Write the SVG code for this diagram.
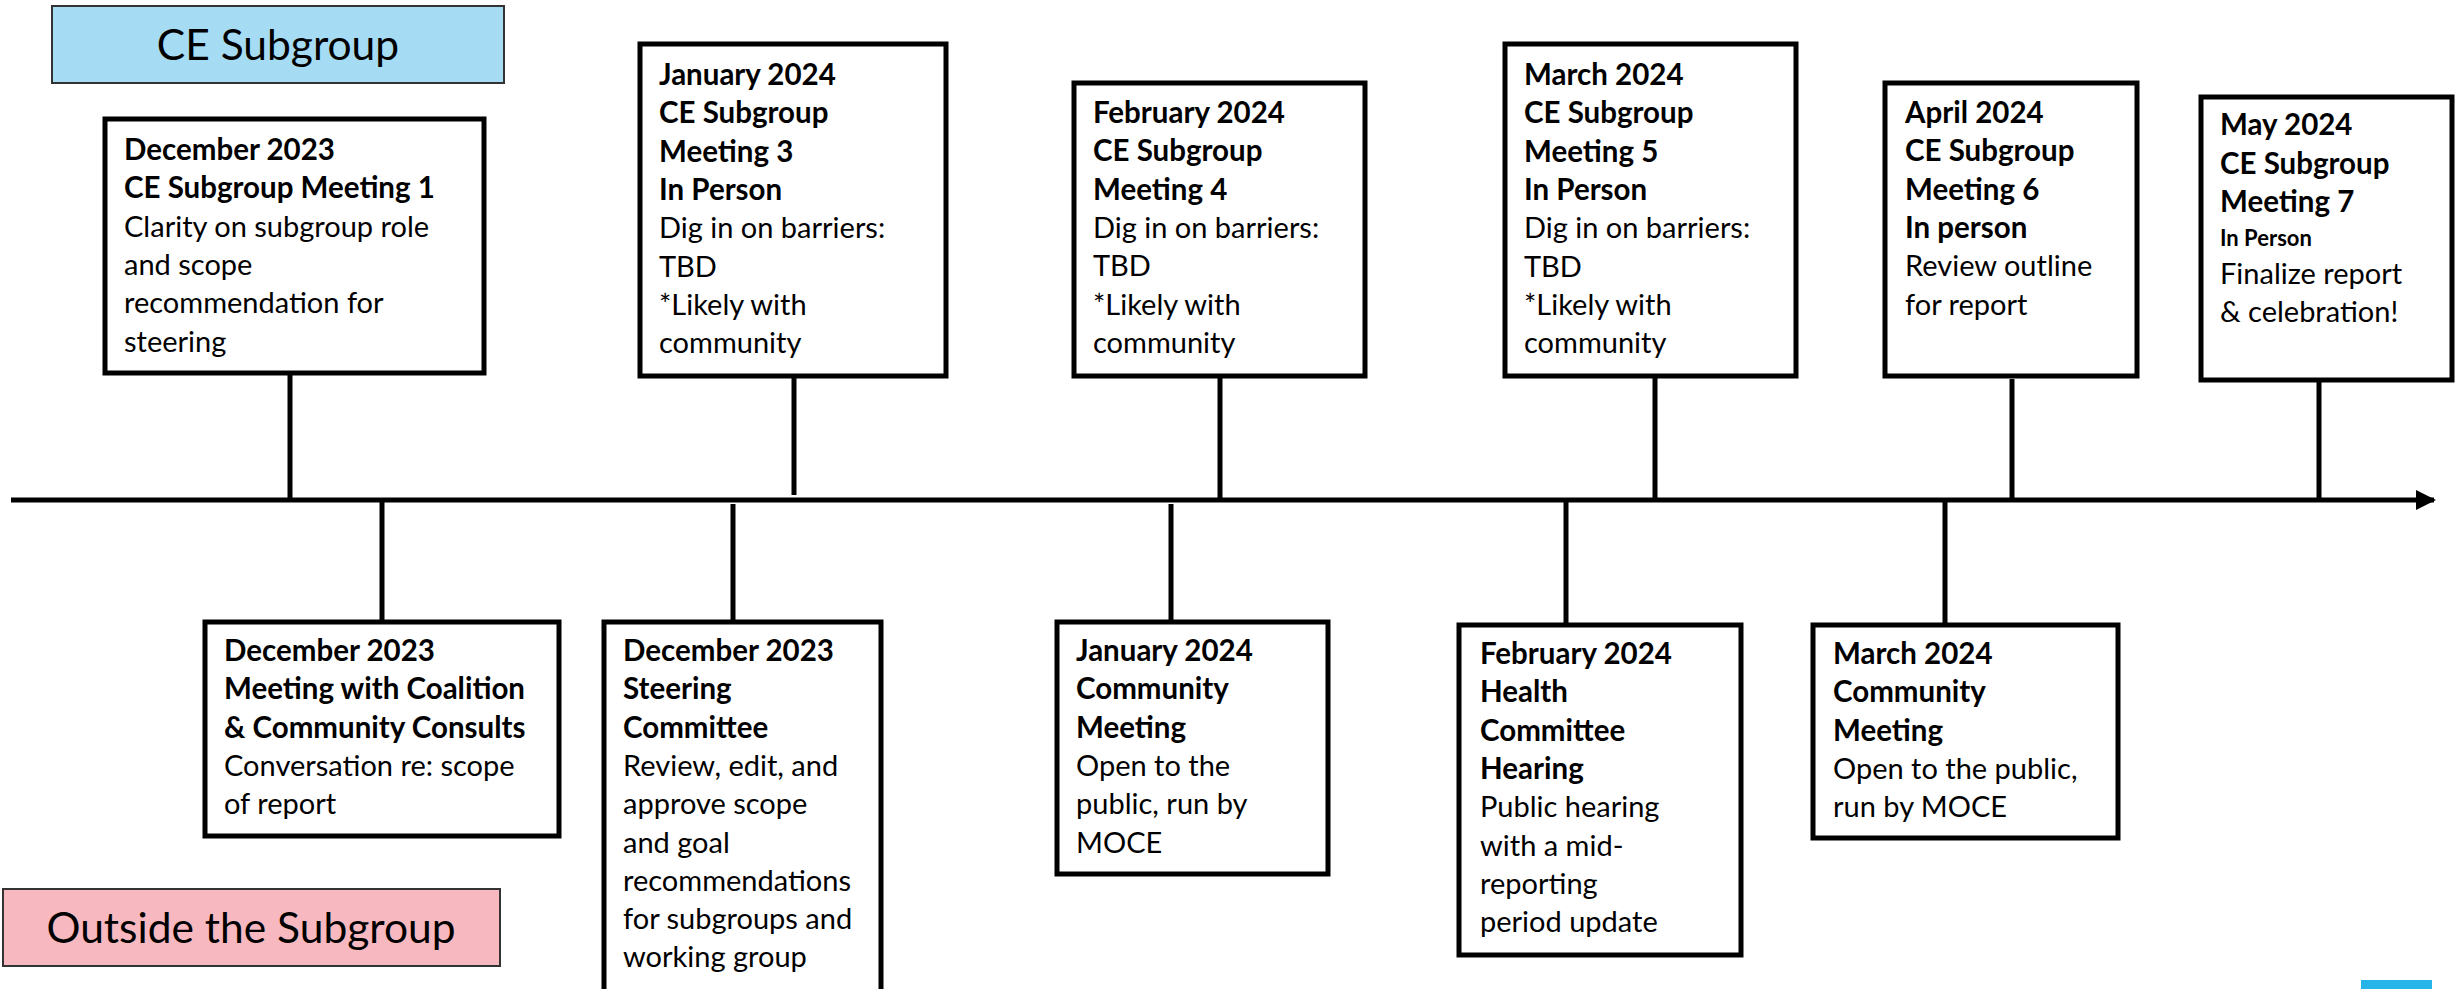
<svg xmlns="http://www.w3.org/2000/svg" width="2455" height="989" viewBox="0 0 2455 989">
<style>
.bg{fill:#ffffff}
.box{fill:#ffffff;stroke:#000000;stroke-width:5}
.stem{stroke:#000000;stroke-width:5;fill:none}
.t{font-family:Lato,"Liberation Sans",sans-serif;font-size:29px;fill:#000000}
.b{font-weight:bold;font-size:29.5px}
.sm{font-size:22px}
.lbl{font-family:Lato,"Liberation Sans",sans-serif;font-size:42.5px;fill:#000000}
</style>
<defs>
<marker id="arr" viewBox="0 0 10 10" refX="9" refY="5" markerWidth="4" markerHeight="4" orient="auto" markerUnits="strokeWidth">
<path d="M0,0 L10,5 L0,10 z" fill="#000000"/>
</marker>
</defs>
<rect class="bg" x="0" y="0" width="2455" height="989"/>

<g id="legend-ce">
<rect x="52" y="6" width="452" height="77" fill="#a5dbf3" stroke="#333333" stroke-width="2"/>
<text class="lbl" x="278" y="60" text-anchor="middle">CE Subgroup</text>
</g>
<g id="legend-outside">
<rect x="3" y="889" width="497" height="77" fill="#f8b8bf" stroke="#333333" stroke-width="2"/>
<text class="lbl" x="251" y="943" text-anchor="middle">Outside the Subgroup</text>
</g>

<g id="connectors">
<line class="stem" x1="11" y1="500" x2="2434" y2="500" marker-end="url(#arr)"/>
<line class="stem" x1="290" y1="373" x2="290" y2="500"/>
<line class="stem" x1="794" y1="376" x2="794" y2="495"/>
<line class="stem" x1="1220" y1="376" x2="1220" y2="500"/>
<line class="stem" x1="1655" y1="376" x2="1655" y2="500"/>
<line class="stem" x1="2012" y1="379" x2="2012" y2="500"/>
<line class="stem" x1="2319" y1="380" x2="2319" y2="500"/>
<line class="stem" x1="382" y1="500" x2="382" y2="622"/>
<line class="stem" x1="733" y1="504" x2="733" y2="622"/>
<line class="stem" x1="1171" y1="504" x2="1171" y2="622"/>
<line class="stem" x1="1566" y1="500" x2="1566" y2="625"/>
<line class="stem" x1="1945" y1="500" x2="1945" y2="625"/>
</g>

<g id="ce-meeting-1">
<rect class="box" x="105" y="119" width="379" height="254"/>
<text class="t" x="124" y="160"><tspan class="b">December 2023</tspan><tspan class="b" x="124" dy="38.3">CE Subgroup Meeting 1</tspan><tspan x="124" dy="38.3">Clarity on subgroup role</tspan><tspan x="124" dy="38.3">and scope</tspan><tspan x="124" dy="38.3">recommendation for</tspan><tspan x="124" dy="38.3">steering</tspan></text>
</g>

<g id="ce-meeting-3">
<rect class="box" x="640" y="44" width="306" height="332"/>
<text class="t" x="659" y="85"><tspan class="b">January 2024</tspan><tspan class="b" x="659" dy="38.3">CE Subgroup</tspan><tspan class="b" x="659" dy="38.3">Meeting 3</tspan><tspan class="b" x="659" dy="38.3">In Person</tspan><tspan x="659" dy="38.3">Dig in on barriers:</tspan><tspan x="659" dy="38.3">TBD</tspan><tspan x="659" dy="38.3">*Likely with</tspan><tspan x="659" dy="38.3">community</tspan></text>
</g>

<g id="ce-meeting-4">
<rect class="box" x="1074" y="83" width="291" height="293"/>
<text class="t" x="1093" y="123"><tspan class="b">February 2024</tspan><tspan class="b" x="1093" dy="38.3">CE Subgroup</tspan><tspan class="b" x="1093" dy="38.3">Meeting 4</tspan><tspan x="1093" dy="38.3">Dig in on barriers:</tspan><tspan x="1093" dy="38.3">TBD</tspan><tspan x="1093" dy="38.3">*Likely with</tspan><tspan x="1093" dy="38.3">community</tspan></text>
</g>

<g id="ce-meeting-5">
<rect class="box" x="1505" y="44" width="291" height="332"/>
<text class="t" x="1524" y="85"><tspan class="b">March 2024</tspan><tspan class="b" x="1524" dy="38.3">CE Subgroup</tspan><tspan class="b" x="1524" dy="38.3">Meeting 5</tspan><tspan class="b" x="1524" dy="38.3">In Person</tspan><tspan x="1524" dy="38.3">Dig in on barriers:</tspan><tspan x="1524" dy="38.3">TBD</tspan><tspan x="1524" dy="38.3">*Likely with</tspan><tspan x="1524" dy="38.3">community</tspan></text>
</g>

<g id="ce-meeting-6">
<rect class="box" x="1885" y="83" width="252" height="293"/>
<text class="t" x="1905" y="123"><tspan class="b">April 2024</tspan><tspan class="b" x="1905" dy="38.3">CE Subgroup</tspan><tspan class="b" x="1905" dy="38.3">Meeting 6</tspan><tspan class="b" x="1905" dy="38.3">In person</tspan><tspan x="1905" dy="38.3">Review outline</tspan><tspan x="1905" dy="38.3">for report</tspan></text>
</g>

<g id="ce-meeting-7">
<rect class="box" x="2201" y="97" width="251" height="283"/>
<text class="t" x="2220" y="135"><tspan class="b">May 2024</tspan><tspan class="b" x="2220" dy="38.5">CE Subgroup</tspan><tspan class="b" x="2220" dy="38.5">Meeting 7</tspan><tspan class="b sm" x="2220" dy="34">In Person</tspan><tspan x="2220" dy="38">Finalize report</tspan><tspan x="2220" dy="38">&amp; celebration!</tspan></text>
</g>

<g id="coalition-meeting">
<rect class="box" x="205" y="622" width="354" height="214"/>
<text class="t" x="224" y="661"><tspan class="b">December 2023</tspan><tspan class="b" x="224" dy="38.3">Meeting with Coalition</tspan><tspan class="b" x="224" dy="38.3">&amp; Community Consults</tspan><tspan x="224" dy="38.3">Conversation re: scope</tspan><tspan x="224" dy="38.3">of report</tspan></text>
</g>

<g id="steering-committee">
<rect class="box" x="604" y="622" width="277" height="380"/>
<text class="t" x="623" y="661"><tspan class="b">December 2023</tspan><tspan class="b" x="623" dy="38.3">Steering</tspan><tspan class="b" x="623" dy="38.3">Committee</tspan><tspan x="623" dy="38.3">Review, edit, and</tspan><tspan x="623" dy="38.3">approve scope</tspan><tspan x="623" dy="38.3">and goal</tspan><tspan x="623" dy="38.3">recommendations</tspan><tspan x="623" dy="38.3">for subgroups and</tspan><tspan x="623" dy="38.3">working group</tspan></text>
</g>

<g id="community-meeting-jan">
<rect class="box" x="1057" y="622" width="271" height="252"/>
<text class="t" x="1076" y="661"><tspan class="b">January 2024</tspan><tspan class="b" x="1076" dy="38.3">Community</tspan><tspan class="b" x="1076" dy="38.3">Meeting</tspan><tspan x="1076" dy="38.3">Open to the</tspan><tspan x="1076" dy="38.3">public, run by</tspan><tspan x="1076" dy="38.3">MOCE</tspan></text>
</g>

<g id="health-committee-hearing">
<rect class="box" x="1459" y="625" width="282" height="330"/>
<text class="t" x="1480" y="664"><tspan class="b">February 2024</tspan><tspan class="b" x="1480" dy="38.3">Health</tspan><tspan class="b" x="1480" dy="38.3">Committee</tspan><tspan class="b" x="1480" dy="38.3">Hearing</tspan><tspan x="1480" dy="38.3">Public hearing</tspan><tspan x="1480" dy="38.3">with a mid-</tspan><tspan x="1480" dy="38.3">reporting</tspan><tspan x="1480" dy="38.3">period update</tspan></text>
</g>

<g id="community-meeting-mar">
<rect class="box" x="1813" y="625" width="305" height="213"/>
<text class="t" x="1833" y="664"><tspan class="b">March 2024</tspan><tspan class="b" x="1833" dy="38.3">Community</tspan><tspan class="b" x="1833" dy="38.3">Meeting</tspan><tspan x="1833" dy="38.3">Open to the public,</tspan><tspan x="1833" dy="38.3">run by MOCE</tspan></text>
</g>

<rect id="corner-bar" x="2361" y="980" width="71" height="9" fill="#27b4e8"/>
</svg>
